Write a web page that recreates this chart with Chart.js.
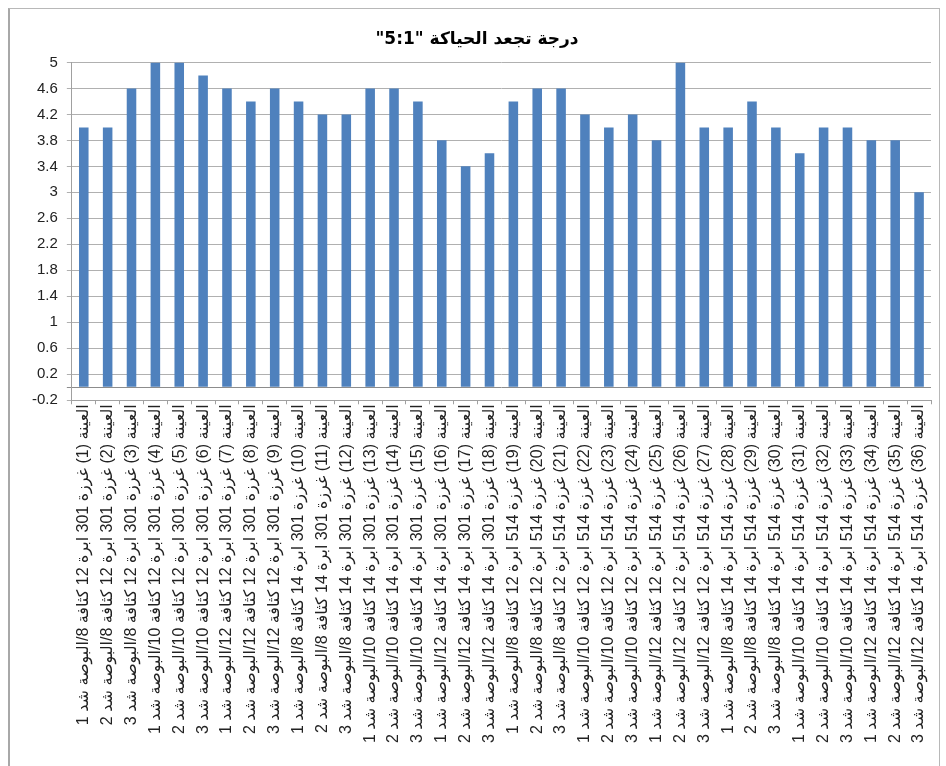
<!DOCTYPE html>
<html>
<head>
<meta charset="utf-8">
<script src="https://cdn.jsdelivr.net/npm/chart.js@4"></script>
<style>
  html, body { margin: 0; padding: 0; background: #ffffff; }
  #frame { position: absolute; left: 8px; top: 8px; width: 929px; height: 770px; border: 1px solid #b8b8b8; border-left: 2px solid #a8a8a8; background: #fff; }
  #c { position: absolute; left: 0; top: 0; }
</style>
</head>
<body>
<div id="frame"><canvas id="c" width="929" height="758"></canvas></div>
<script>
const titleText = 'درجة تجعد الحياكة "5:1"';

const categories = [
  'العينة (1) غرزة 301 ابرة 12 كثافة 8/البوصة شد 1',
  'العينة (2) غرزة 301 ابرة 12 كثافة 8/البوصة شد 2',
  'العينة (3) غرزة 301 ابرة 12 كثافة 8/البوصة شد 3',
  'العينة (4) غرزة 301 ابرة 12 كثافة 10/البوصة شد 1',
  'العينة (5) غرزة 301 ابرة 12 كثافة 10/البوصة شد 2',
  'العينة (6) غرزة 301 ابرة 12 كثافة 10/البوصة شد 3',
  'العينة (7) غرزة 301 ابرة 12 كثافة 12/البوصة شد 1',
  'العينة (8) غرزة 301 ابرة 12 كثافة 12/البوصة شد 2',
  'العينة (9) غرزة 301 ابرة 12 كثافة 12/البوصة شد 3',
  'العينة (10) غرزة 301 ابرة 14 كثافة 8/البوصة شد 1',
  'العينة (11) غرزة 301 ابرة 14 كثافة 8/البوصة شد 2',
  'العينة (12) غرزة 301 ابرة 14 كثافة 8/البوصة شد 3',
  'العينة (13) غرزة 301 ابرة 14 كثافة 10/البوصة شد 1',
  'العينة (14) غرزة 301 ابرة 14 كثافة 10/البوصة شد 2',
  'العينة (15) غرزة 301 ابرة 14 كثافة 10/البوصة شد 3',
  'العينة (16) غرزة 301 ابرة 14 كثافة 12/البوصة شد 1',
  'العينة (17) غرزة 301 ابرة 14 كثافة 12/البوصة شد 2',
  'العينة (18) غرزة 301 ابرة 14 كثافة 12/البوصة شد 3',
  'العينة (19) غرزة 514 ابرة 12 كثافة 8/البوصة شد 1',
  'العينة (20) غرزة 514 ابرة 12 كثافة 8/البوصة شد 2',
  'العينة (21) غرزة 514 ابرة 12 كثافة 8/البوصة شد 3',
  'العينة (22) غرزة 514 ابرة 12 كثافة 10/البوصة شد 1',
  'العينة (23) غرزة 514 ابرة 12 كثافة 10/البوصة شد 2',
  'العينة (24) غرزة 514 ابرة 12 كثافة 10/البوصة شد 3',
  'العينة (25) غرزة 514 ابرة 12 كثافة 12/البوصة شد 1',
  'العينة (26) غرزة 514 ابرة 12 كثافة 12/البوصة شد 2',
  'العينة (27) غرزة 514 ابرة 12 كثافة 12/البوصة شد 3',
  'العينة (28) غرزة 514 ابرة 14 كثافة 8/البوصة شد 1',
  'العينة (29) غرزة 514 ابرة 14 كثافة 8/البوصة شد 2',
  'العينة (30) غرزة 514 ابرة 14 كثافة 8/البوصة شد 3',
  'العينة (31) غرزة 514 ابرة 14 كثافة 10/البوصة شد 1',
  'العينة (32) غرزة 514 ابرة 14 كثافة 10/البوصة شد 2',
  'العينة (33) غرزة 514 ابرة 14 كثافة 10/البوصة شد 3',
  'العينة (34) غرزة 514 ابرة 14 كثافة 12/البوصة شد 1',
  'العينة (35) غرزة 514 ابرة 14 كثافة 12/البوصة شد 2',
  'العينة (36) غرزة 514 ابرة 14 كثافة 12/البوصة شد 3'
];

const values = [
  4.0, 4.0, 4.6, 5.0, 5.0, 4.8, 4.6, 4.4, 4.6,
  4.4, 4.2, 4.2, 4.6, 4.6, 4.4, 3.8, 3.4, 3.6,
  4.4, 4.6, 4.6, 4.2, 4.0, 4.2, 3.8, 5.0, 4.0,
  4.0, 4.4, 4.0, 3.6, 4.0, 4.0, 3.8, 3.8, 3.0
];

const yTickValues = [-0.2, 0.2, 0.6, 1, 1.4, 1.8, 2.2, 2.6, 3, 3.4, 3.8, 4.2, 4.6, 5];

const RLE = '\u202B', PDF = '\u202C';

new Chart(document.getElementById('c'), {
  type: 'bar',
  data: {
    labels: categories,
    datasets: [{
      data: values,
      backgroundColor: '#4f81bd',
      borderWidth: 0,
      categoryPercentage: 1.0,
      barPercentage: 0.4
    }]
  },
  options: {
    responsive: false,
    animation: false,
    devicePixelRatio: 1,
    layout: { padding: { left: 13, right: 8, top: 0, bottom: 24 } },
    plugins: {
      legend: { display: false },
      tooltip: { enabled: false },
      title: {
        display: true,
        text: RLE + titleText + PDF,
        color: '#000',
        font: { family: 'DejaVu Sans', size: 17, weight: 'bold' },
        padding: { top: 20, bottom: 13 }
      }
    },
    scales: {
      x: {
        offset: true,
        grid: {
          offset: true,
          drawOnChartArea: false,
          drawTicks: true,
          tickLength: 4,
          color: '#a0a0a0'
        },
        border: { display: true, color: '#a0a0a0' },
        ticks: {
          autoSkip: false,
          maxRotation: 90,
          minRotation: 90,
          padding: 0,
          color: '#222',
          font: { family: "'Liberation Sans', 'DejaVu Sans'", size: 16 },
          callback: function (v, i) { return RLE + categories[i] + PDF; }
        }
      },
      y: {
        min: -0.2,
        max: 5,
        afterBuildTicks: function (scale) {
          const t = yTickValues.map(v => ({ value: v }));
          t.push({ value: 0 });
          t.sort((a, b) => a.value - b.value);
          scale.ticks = t;
        },
        grid: {
          color: function (ctx) {
            return (ctx.tick && ctx.tick.value === 0) ? '#8c8c8c' : '#b0b0b0';
          },
          tickLength: 5,
          lineWidth: 1
        },
        border: { display: true, color: '#a0a0a0' },
        ticks: {
          color: '#222',
          padding: 9,
          font: { family: 'Liberation Sans', size: 15 },
          callback: function (v) {
            if (Math.abs(v) < 1e-9) return '';
            return String(Math.round(v * 10) / 10);
          }
        }
      }
    }
  }
});
</script>
</body>
</html>
